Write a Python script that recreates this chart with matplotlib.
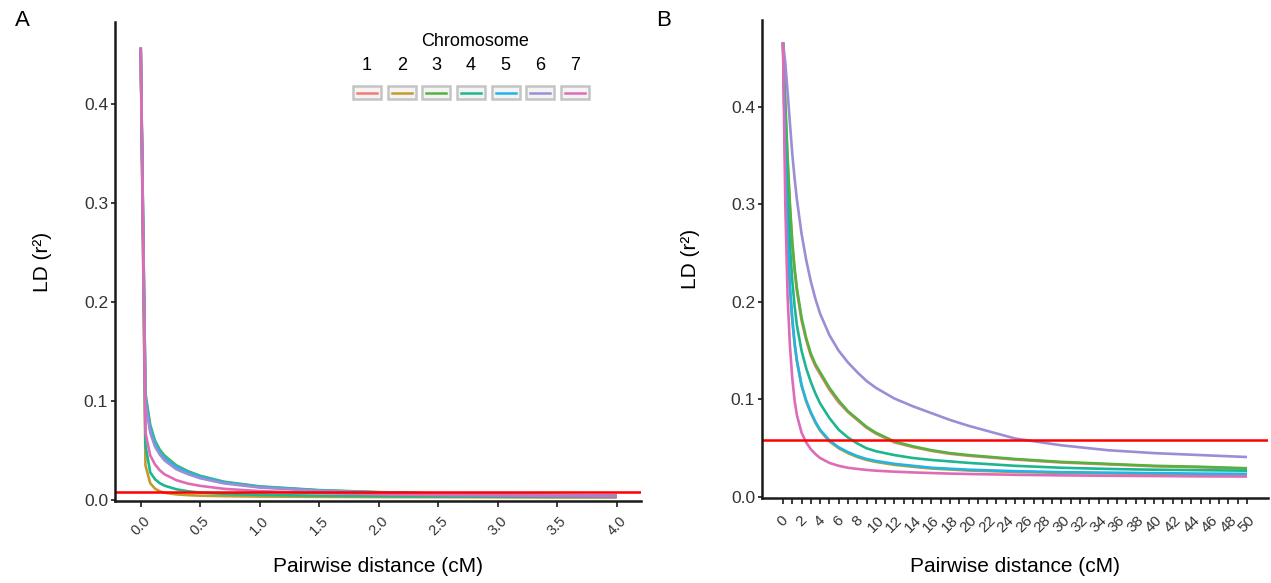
import matplotlib
matplotlib.use('Agg')
import matplotlib.pyplot as plt
from matplotlib.patches import Rectangle
from matplotlib.lines import Line2D

plt.rcParams['font.family'] = ['Liberation Sans', 'DejaVu Sans']

# ---------------- data ----------------
chromosomes = ['1', '2', '3', '4', '5', '6', '7']
colors = ['#F27D72', '#C49A2E', '#55B23F', '#1DB68E', '#22B4E6', '#9C8DD6', '#DE6BB8']

# Panel A
xa = [0, 0.04, 0.08, 0.12, 0.16, 0.2, 0.3, 0.4, 0.5, 0.7, 1.0, 1.5, 2.0, 2.5, 3.0, 3.5, 4.0]
a_chr1 = [0.457, 0.102, 0.072, 0.057, 0.048, 0.042, 0.033, 0.0275, 0.0233, 0.0176, 0.0131, 0.0095, 0.0076, 0.0063, 0.0054, 0.0048, 0.0043]
a_chr2 = [0.457, 0.035, 0.017, 0.0115, 0.0088, 0.0073, 0.0057, 0.0049, 0.0044, 0.0039, 0.0035, 0.0032, 0.0030, 0.0029, 0.0028, 0.0027, 0.0027]
a_chr3 = [0.457, 0.108, 0.076, 0.060, 0.051, 0.045, 0.035, 0.029, 0.0245, 0.0185, 0.0138, 0.0100, 0.0080, 0.0066, 0.0057, 0.0050, 0.0045]
a_chr4 = [0.457, 0.055, 0.028, 0.021, 0.017, 0.0145, 0.0108, 0.0088, 0.0075, 0.0062, 0.0052, 0.0044, 0.0039, 0.0035, 0.0033, 0.0031, 0.0030]
a_chr5 = [0.457, 0.104, 0.073, 0.058, 0.049, 0.043, 0.034, 0.028, 0.0238, 0.018, 0.0134, 0.0097, 0.0078, 0.0064, 0.0055, 0.0049, 0.0044]
a_chr6 = [0.457, 0.098, 0.068, 0.054, 0.046, 0.040, 0.031, 0.026, 0.022, 0.0168, 0.0126, 0.0092, 0.0074, 0.0062, 0.0053, 0.0047, 0.0042]
a_chr7 = [0.457, 0.068, 0.045, 0.036, 0.030, 0.026, 0.020, 0.0165, 0.0143, 0.0113, 0.0090, 0.0070, 0.0058, 0.0050, 0.0045, 0.0041, 0.0038]
a_threshold = 0.008

# Panel B
xb = [0, 0.25, 0.5, 0.75, 1, 1.25, 1.5, 2, 2.5, 3, 3.5, 4, 5, 6, 7, 8, 9, 10, 12, 14, 16, 18, 20, 25, 30, 35, 40, 45, 50]
b_chr1 = [0.466, 0.400, 0.343, 0.296, 0.258, 0.232, 0.211, 0.181, 0.161, 0.145, 0.134, 0.126, 0.110, 0.097, 0.087, 0.079, 0.071, 0.065, 0.056, 0.0512, 0.0473, 0.0443, 0.0423, 0.0384, 0.0354, 0.0335, 0.0315, 0.0305, 0.029]
b_chr2 = [0.466, 0.344, 0.261, 0.214, 0.182, 0.157, 0.139, 0.114, 0.098, 0.086, 0.076, 0.068, 0.057, 0.050, 0.045, 0.041, 0.038, 0.036, 0.033, 0.031, 0.0292, 0.0282, 0.0272, 0.0257, 0.0247, 0.0242, 0.0237, 0.0232, 0.023]
b_chr3 = [0.466, 0.405, 0.348, 0.300, 0.262, 0.235, 0.214, 0.184, 0.163, 0.147, 0.136, 0.128, 0.112, 0.099, 0.088, 0.080, 0.072, 0.066, 0.057, 0.052, 0.048, 0.045, 0.043, 0.039, 0.036, 0.034, 0.032, 0.031, 0.0295]
b_chr4 = [0.466, 0.375, 0.305, 0.258, 0.222, 0.196, 0.176, 0.150, 0.132, 0.118, 0.106, 0.096, 0.081, 0.069, 0.061, 0.055, 0.050, 0.047, 0.043, 0.040, 0.038, 0.0365, 0.035, 0.032, 0.030, 0.0288, 0.028, 0.0275, 0.027]
b_chr5 = [0.466, 0.345, 0.262, 0.215, 0.183, 0.158, 0.140, 0.115, 0.099, 0.087, 0.077, 0.069, 0.058, 0.051, 0.046, 0.042, 0.039, 0.037, 0.034, 0.032, 0.030, 0.029, 0.028, 0.0265, 0.0255, 0.025, 0.0245, 0.024, 0.0238]
b_chr6 = [0.466, 0.445, 0.415, 0.383, 0.352, 0.327, 0.305, 0.270, 0.243, 0.221, 0.203, 0.188, 0.166, 0.150, 0.138, 0.128, 0.119, 0.112, 0.101, 0.093, 0.086, 0.079, 0.073, 0.060, 0.053, 0.048, 0.045, 0.043, 0.041]
b_chr7 = [0.466, 0.300, 0.205, 0.155, 0.122, 0.099, 0.084, 0.066, 0.056, 0.049, 0.044, 0.040, 0.035, 0.032, 0.030, 0.0288, 0.0278, 0.027, 0.026, 0.0252, 0.0246, 0.024, 0.0236, 0.0228, 0.0222, 0.0218, 0.0215, 0.0212, 0.021]
b_threshold = 0.058

a_series = [a_chr1, a_chr2, a_chr3, a_chr4, a_chr5, a_chr6, a_chr7]
b_series = [b_chr1, b_chr2, b_chr3, b_chr4, b_chr5, b_chr6, b_chr7]

a_xticks = [0.0, 0.5, 1.0, 1.5, 2.0, 2.5, 3.0, 3.5, 4.0]
b_xticks_major = list(range(0, 51, 2))
b_xticks_minor = list(range(0, 51, 1))
yticks = [0.0, 0.1, 0.2, 0.3, 0.4]

# ---------------- figure ----------------
W, H = 1271, 583
fig = plt.figure(figsize=(W / 100, H / 100), dpi=100)


def px_rect(left, top, right, bottom):
    return [left / W, (H - bottom) / H, (right - left) / W, (bottom - top) / H]


A_box = (115, 22, 641, 501)
B_box = (762, 20, 1268, 498)
axA = fig.add_axes(px_rect(*A_box))
axB = fig.add_axes(px_rect(*B_box))

tick_col = '#333333'
lw = 1.9


def style(ax, box, xlab_y, ylab_x):
    left, top, right, bottom = box
    for s in ['top', 'right']:
        ax.spines[s].set_visible(False)
    for s in ['left', 'bottom']:
        ax.spines[s].set_linewidth(1.8)
        ax.spines[s].set_color('#1a1a1a')
    ax.tick_params(axis='both', which='both', direction='out', color='#1a1a1a', width=1.2)
    ax.tick_params(axis='y', length=3, labelsize=12.5, labelcolor=tick_col, pad=2)
    ax.set_yticks(yticks)
    ax.set_yticklabels([f'{v:.1f}' for v in yticks])
    ax.set_ylabel('LD (r²)', fontsize=15, va='center')
    ax.set_xlabel('Pairwise distance (cM)', fontsize=15, va='center')
    ax.xaxis.set_label_coords(0.5, -(xlab_y - bottom) / (bottom - top))
    ax.yaxis.set_label_coords(-(left - ylab_x) / (right - left), 0.5)


# Panel A
for ys, c in zip(a_series, colors):
    axA.plot(xa, ys, color=c, lw=lw, solid_joinstyle='round', solid_capstyle='butt')
axA.axhline(a_threshold, color='#FF0000', lw=1.8)
axA.set_xlim(-0.216, 4.204)
axA.set_ylim(-0.001, 0.483)
style(axA, A_box, 567, 42)
axA.set_xticks(a_xticks)
axA.set_xticklabels([f'{v:.1f}' for v in a_xticks], rotation=45, ha='center', va='top')
axA.tick_params(axis='x', length=4, labelsize=10.5, labelcolor=tick_col, pad=5)

# Panel B
for ys, c in zip(b_series, colors):
    axB.plot(xb, ys, color=c, lw=lw, solid_joinstyle='round', solid_capstyle='butt')
axB.axhline(b_threshold, color='#FF0000', lw=1.8)
axB.set_xlim(-2.26, 52.26)
axB.set_ylim(-0.001, 0.489)
style(axB, B_box, 567, 690)
axB.set_xticks(b_xticks_major)
axB.set_xticks(b_xticks_minor, minor=True)
axB.set_xticklabels([str(v) for v in b_xticks_major], rotation=45, ha='center', va='top')
axB.tick_params(axis='x', which='both', length=4, labelsize=11, labelcolor=tick_col, pad=7)

# Legend (labels above keys, ggplot style)
axW, axH = A_box[2] - A_box[0], A_box[3] - A_box[1]
def fx(p):
    return (p - A_box[0]) / axW
def fy(p):
    return (A_box[3] - p) / axH

axA.text(fx(475), fy(42), 'Chromosome', transform=axA.transAxes, ha='center', va='center', fontsize=13)
key_x = [367, 401.7, 436.4, 471.1, 505.8, 540.5, 575.2]
for name, c, kx in zip(chromosomes, colors, key_x):
    axA.text(fx(kx), fy(66), name, transform=axA.transAxes, ha='center', va='center', fontsize=13)
    rect = Rectangle((fx(kx - 14), fy(99)), 28 / axW, 13 / axH, transform=axA.transAxes,
                     facecolor='#F4F4F4', edgecolor='#C4C4C4', lw=1.8, clip_on=False)
    axA.add_patch(rect)
    axA.add_line(Line2D([fx(kx - 10), fx(kx + 10)], [fy(92.5), fy(92.5)], transform=axA.transAxes,
                        color=c, lw=1.8, clip_on=False))

fig.text(15 / W, 1 - 20 / H, 'A', fontsize=16, ha='left', va='center')
fig.text(656 / W, 1 - 20 / H, 'B', fontsize=16, ha='left', va='center')

fig.savefig('out.png', dpi=100)
